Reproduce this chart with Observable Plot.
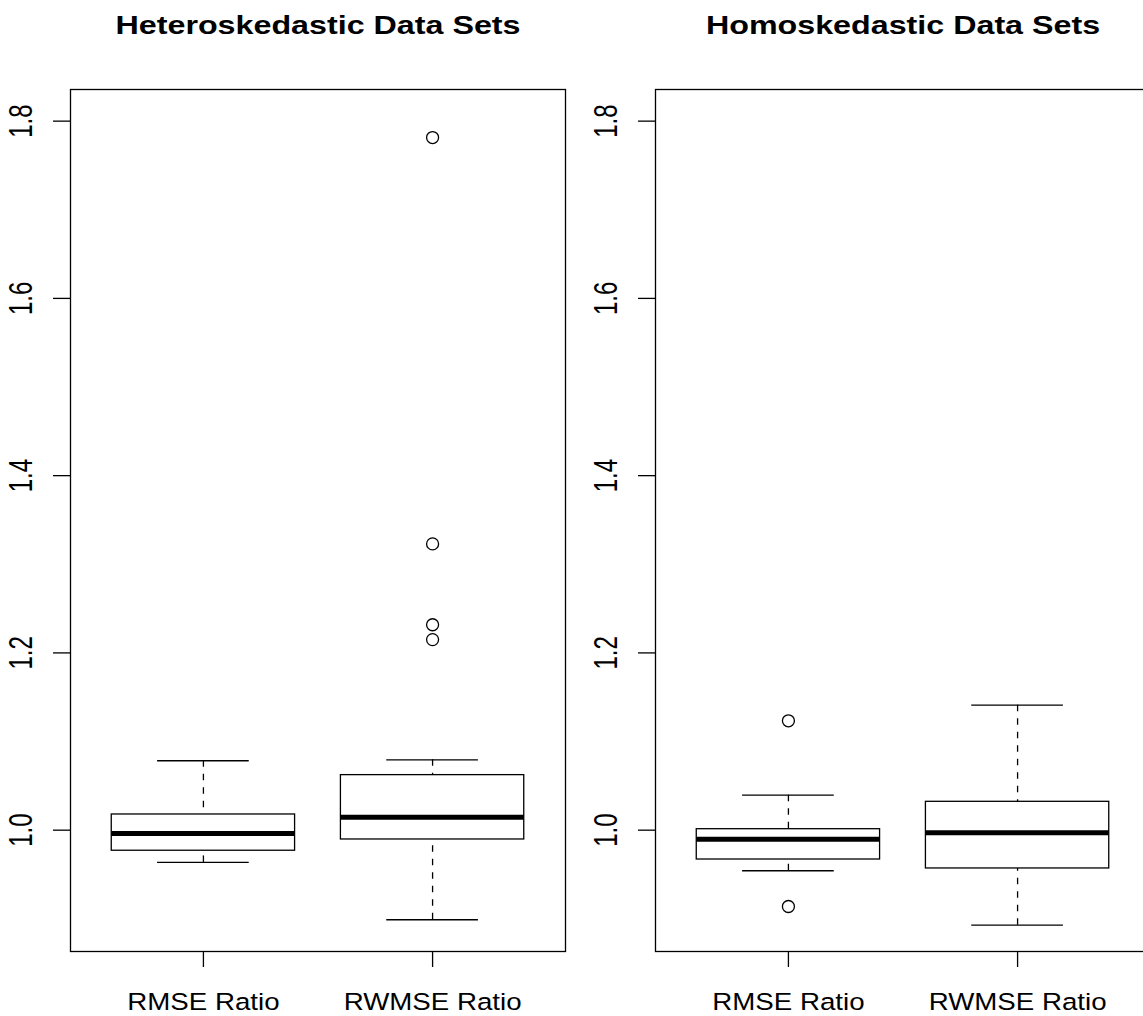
<!DOCTYPE html>
<html>
<head>
<meta charset="utf-8">
<script src="https://cdn.jsdelivr.net/npm/d3@7"></script>
<script src="https://cdn.jsdelivr.net/npm/@observablehq/plot@0.6"></script>
<style>
  html, body { margin: 0; padding: 0; background: #fff; overflow: hidden; }
  #viewport { width: 1143px; height: 1016px; overflow: hidden; }
  #row { display: flex; width: 1170px; }
  #row svg { display: block; flex: none; }
</style>
</head>
<body>
<div id="viewport"><div id="row"></div></div>
<script>
// Groups shown in each panel, left to right
const categories = ["RMSE Ratio", "RWMSE Ratio"];
const panelTitles = ["Heteroskedastic Data Sets", "Homoskedastic Data Sets"];

// Heteroskedastic data sets: box-plot summaries per group
const heteroLower = [0.9636, 0.8989];
const heteroQ1 = [0.9768, 0.9895];
const heteroMedian = [0.9961, 1.0147];
const heteroQ3 = [1.0177, 1.0621];
const heteroUpper = [1.0783, 1.0794];
const heteroOutliers = [[], [1.7815, 1.3230, 1.2318, 1.2150]];

// Homoskedastic data sets: box-plot summaries per group
const homoLower = [0.9542, 0.8928];
const homoQ1 = [0.9669, 0.9568];
const homoMedian = [0.9898, 0.9971];
const homoQ3 = [1.0011, 1.0320];
const homoUpper = [1.0395, 1.1410];
const homoOutliers = [[1.1234, 0.9139], []];

// Shared value axis
const yTicks = [1.0, 1.2, 1.4, 1.6, 1.8];
const yDomain = [0.8631, 1.8357];

const FONT = "'Liberation Sans', Arial, Helvetica, sans-serif";
const LW = 1.3;

// wide-set lettering: horizontal stretch for titles / group labels, cross stretch for tick labels
const TITLE_STRETCH = 1.24;
const GROUP_STRETCH = 1.13;
const TICK_STRETCH = 1.35;

function boxPanel(title, lower, q1, med, q3, upper, outliers) {
  const stats = categories.map((name, i) => ({
    name, pos: i + 1,
    lower: lower[i], q1: q1[i], med: med[i], q3: q3[i], upper: upper[i]
  }));
  const points = outliers.flatMap((vals, i) => vals.map(v => ({pos: i + 1, value: v})));
  const half = 0.4, capHalf = 0.2;

  return Plot.plot({
    width: 585,
    height: 1016,
    marginLeft: 70,
    marginRight: 20,
    marginTop: 89,
    marginBottom: 65,
    style: {fontFamily: FONT, background: "white", color: "black", overflow: "visible"},
    x: {domain: [0.42, 2.58], axis: null},
    y: {domain: yDomain, axis: null},
    marks: [
      // dashed whiskers
      Plot.ruleX(stats, {x: "pos", y1: "upper", y2: "q3", stroke: "black", strokeWidth: LW, strokeDasharray: "6.5,7"}),
      Plot.ruleX(stats, {x: "pos", y1: "lower", y2: "q1", stroke: "black", strokeWidth: LW, strokeDasharray: "6.5,7"}),
      // whisker caps
      Plot.ruleY(stats, {y: "upper", x1: d => d.pos - capHalf, x2: d => d.pos + capHalf, stroke: "black", strokeWidth: LW}),
      Plot.ruleY(stats, {y: "lower", x1: d => d.pos - capHalf, x2: d => d.pos + capHalf, stroke: "black", strokeWidth: LW}),
      // interquartile boxes
      Plot.rect(stats, {x1: d => d.pos - half, x2: d => d.pos + half, y1: "q1", y2: "q3", fill: "white", stroke: "black", strokeWidth: LW}),
      // medians
      Plot.ruleY(stats, {y: "med", x1: d => d.pos - half, x2: d => d.pos + half, stroke: "black", strokeWidth: 5}),
      // outliers
      Plot.dot(points, {x: "pos", y: "value", r: 6, stroke: "black", strokeWidth: LW, fill: "none"}),
      // plot border
      Plot.frame({stroke: "black", strokeWidth: LW}),
      // y axis ticks with rotated labels
      Plot.axisY({ticks: yTicks, tickSize: 17, tickFormat: () => "", stroke: "black", strokeWidth: LW, label: null}),
      Plot.text(yTicks, {y: d => d, text: d => d.toFixed(1), frameAnchor: "left", textAnchor: "middle", lineAnchor: "middle", dx: -48.5, rotate: -90, fontSize: 24, fill: "black"}),
      // x axis ticks with group labels
      Plot.axisX({ticks: [1, 2], tickSize: 16, tickFormat: () => "", stroke: "black", strokeWidth: LW, label: null}),
      Plot.text(stats, {x: "pos", text: "name", frameAnchor: "bottom", lineAnchor: "middle", dy: 50.5, fontSize: 24.5, fill: "black"}),
      // panel title
      Plot.text([title], {text: d => d, frameAnchor: "top", lineAnchor: "middle", dy: -64, fontSize: 26, fontWeight: "bold", fill: "black"})
    ]
  });
}

function widenText(svg) {
  const tickLabels = new Set(yTicks.map(d => d.toFixed(1)));
  d3.select(svg).selectAll("text").each(function () {
    const label = this.textContent;
    if (panelTitles.includes(label) || categories.includes(label)) {
      const k = panelTitles.includes(label) ? TITLE_STRETCH : GROUP_STRETCH;
      const w = this.getComputedTextLength();
      this.setAttribute("textLength", (w * k).toFixed(1));
      this.setAttribute("lengthAdjust", "spacingAndGlyphs");
    } else if (tickLabels.has(label)) {
      const t = this.getAttribute("transform") || "";
      this.setAttribute("transform", `${t} scale(1,${TICK_STRETCH})`);
    }
  });
}

const row = document.getElementById("row");
[
  boxPanel(panelTitles[0], heteroLower, heteroQ1, heteroMedian, heteroQ3, heteroUpper, heteroOutliers),
  boxPanel(panelTitles[1], homoLower, homoQ1, homoMedian, homoQ3, homoUpper, homoOutliers)
].forEach(svg => { row.appendChild(svg); widenText(svg); });
</script>
</body>
</html>
